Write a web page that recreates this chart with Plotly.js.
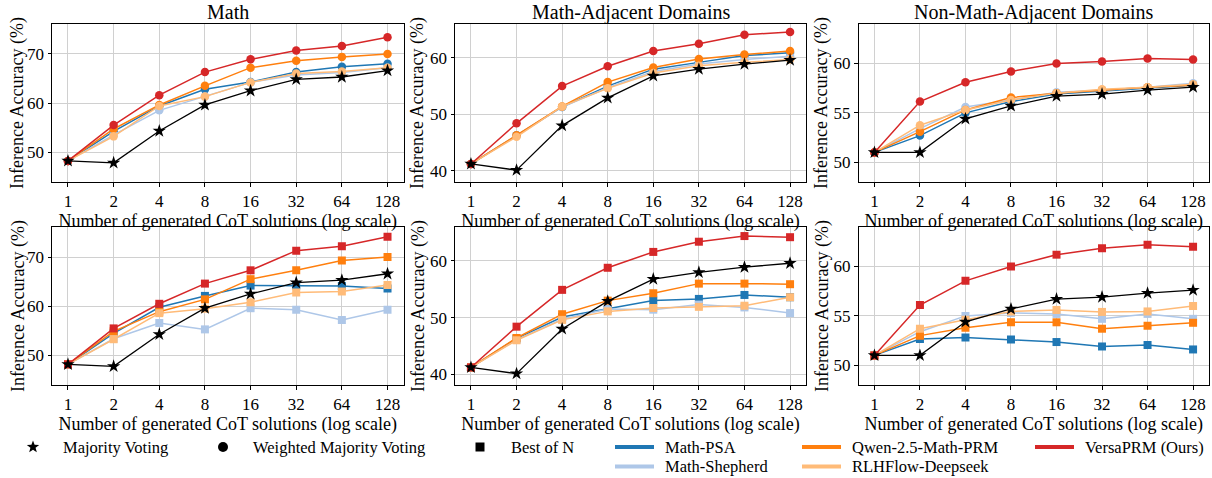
<!DOCTYPE html>
<html><head><meta charset="utf-8">
<script src="https://cdn.plot.ly/plotly-3.0.1.min.js"></script>
<style>html,body{margin:0;padding:0;background:#fff}#c{width:1212px;height:478px}</style>
</head><body><div id="c"></div>
<script>
const N = [1, 2, 4, 8, 16, 32, 64, 128];
const tickText = ["1", "2", "4", "8", "16", "32", "64", "128"];
const panelTitles = ["Math", "Math-Adjacent Domains", "Non-Math-Adjacent Domains"];
const methodNames = ["Math-PSA", "Math-Shepherd", "Qwen-2.5-Math-PRM", "RLHFlow-Deepseek", "VersaPRM (Ours)"];
const methodColors = ["#1f77b4", "#aec7e8", "#ff7f0e", "#ffbb78", "#d62728"];
const strategyNames = ["Majority Voting", "Weighted Majority Voting", "Best of N"];

// Majority voting (same in both rows)
const mv_math = [48.2, 47.8, 54.3, 59.6, 62.5, 64.8, 65.3, 66.6];
const mv_adj  = [41.2, 40.1, 48.0, 52.9, 56.8, 58.0, 58.9, 59.6];
const mv_non  = [51.0, 51.0, 54.4, 55.7, 56.7, 56.9, 57.3, 57.6];

// Weighted majority voting (top row)
const wmv_math_psa   = [48.2, 54.2, 59.4, 62.8, 64.3, 66.3, 67.4, 68.0];
const wmv_math_shep  = [48.2, 53.5, 58.5, 61.3, 64.2, 65.7, 66.2, 67.2];
const wmv_math_qwen  = [48.2, 54.7, 59.6, 63.5, 67.2, 68.6, 69.4, 70.0];
const wmv_math_rlhf  = [48.2, 53.2, 59.4, 61.3, 64.2, 66.0, 66.4, 67.2];
const wmv_math_versa = [48.2, 55.5, 61.6, 66.3, 68.9, 70.7, 71.6, 73.4];

const wmv_adj_psa   = [41.2, 46.3, 51.3, 55.0, 58.0, 59.2, 60.4, 60.9];
const wmv_adj_shep  = [41.2, 46.2, 51.3, 54.7, 57.6, 58.9, 59.7, 60.3];
const wmv_adj_qwen  = [41.2, 46.3, 51.4, 55.7, 58.3, 59.8, 60.6, 61.2];
const wmv_adj_rlhf  = [41.2, 46.0, 51.4, 54.6, 57.3, 58.6, 59.2, 59.7];
const wmv_adj_versa = [41.2, 48.4, 55.0, 58.5, 61.2, 62.5, 64.1, 64.6];

const wmv_non_psa   = [51.0, 52.7, 55.0, 56.15, 56.9, 57.2, 57.5, 57.8];
const wmv_non_shep  = [51.0, 53.4, 55.6, 56.3, 57.1, 57.3, 57.6, 58.0];
const wmv_non_qwen  = [51.0, 53.1, 55.3, 56.55, 57.0, 57.3, 57.6, 57.8];
const wmv_non_rlhf  = [51.0, 53.75, 55.3, 56.3, 57.0, 57.4, 57.6, 57.9];
const wmv_non_versa = [51.0, 56.15, 58.1, 59.2, 60.0, 60.2, 60.5, 60.4];

// Best of N (bottom row)
const bon_math_psa   = [48.2, 54.5, 59.8, 62.1, 64.2, 64.2, 64.1, 63.6];
const bon_math_shep  = [48.2, 53.4, 56.6, 55.3, 59.6, 59.3, 57.2, 59.3];
const bon_math_qwen  = [48.2, 54.9, 58.9, 61.4, 65.5, 67.3, 69.3, 70.0];
const bon_math_rlhf  = [48.2, 53.3, 58.6, 59.5, 60.8, 62.8, 63.0, 64.3];
const bon_math_versa = [48.2, 55.5, 60.5, 64.6, 67.3, 71.3, 72.2, 74.1];

const bon_adj_psa   = [41.2, 46.3, 50.1, 51.5, 53.0, 53.3, 54.0, 53.6];
const bon_adj_shep  = [41.2, 46.1, 49.7, 51.5, 51.4, 52.3, 51.8, 50.8];
const bon_adj_qwen  = [41.2, 46.4, 50.6, 53.0, 54.3, 56.0, 56.0, 55.9];
const bon_adj_rlhf  = [41.2, 46.0, 49.6, 51.1, 51.7, 51.9, 52.1, 53.6];
const bon_adj_versa = [41.2, 48.4, 54.9, 58.8, 61.6, 63.4, 64.4, 64.2];

const bon_non_psa   = [51.0, 52.65, 52.8, 52.6, 52.35, 51.9, 52.05, 51.6];
const bon_non_shep  = [51.0, 53.4, 55.0, 55.3, 55.2, 54.7, 55.2, 54.7];
const bon_non_qwen  = [51.0, 53.0, 53.8, 54.35, 54.35, 53.7, 54.0, 54.3];
const bon_non_rlhf  = [51.0, 53.7, 54.6, 55.45, 55.6, 55.4, 55.45, 56.0];
const bon_non_versa = [51.0, 56.1, 58.55, 60.0, 61.2, 61.85, 62.2, 62.0];

const yRanges = [[43.9, 76.1], [38.0, 66.0], [48.0, 64.0], [44.0, 76.1], [38.1, 66.0], [48.0, 64.0]];
const yTicks = [[50, 60, 70], [40, 50, 60], [50, 55, 60], [50, 60, 70], [40, 50, 60], [50, 55, 60]];

const panels = [
  {methods: [wmv_math_psa, wmv_math_shep, wmv_math_qwen, wmv_math_rlhf, wmv_math_versa], mv: mv_math, sym: "circle"},
  {methods: [wmv_adj_psa, wmv_adj_shep, wmv_adj_qwen, wmv_adj_rlhf, wmv_adj_versa], mv: mv_adj, sym: "circle"},
  {methods: [wmv_non_psa, wmv_non_shep, wmv_non_qwen, wmv_non_rlhf, wmv_non_versa], mv: mv_non, sym: "circle"},
  {methods: [bon_math_psa, bon_math_shep, bon_math_qwen, bon_math_rlhf, bon_math_versa], mv: mv_math, sym: "square"},
  {methods: [bon_adj_psa, bon_adj_shep, bon_adj_qwen, bon_adj_rlhf, bon_adj_versa], mv: mv_adj, sym: "square"},
  {methods: [bon_non_psa, bon_non_shep, bon_non_qwen, bon_non_rlhf, bon_non_versa], mv: mv_non, sym: "square"}
];

const W = 1212, H = 478;
const FONT = "'Liberation Serif', 'Times New Roman', serif";
const xPix = [[52, 403.5], [455, 806], [858.5, 1209]];
const yPix = [[24, 182], [227, 385]];
const yTitleX = [18, 418, 822];
const px = v => v / W, py = v => 1 - v / H;

const traces = [];
const layout = {
  width: W, height: H, margin: {l: 0, r: 0, t: 0, b: 0},
  paper_bgcolor: "#fff", plot_bgcolor: "#fff",
  font: {family: FONT, size: 17, color: "#000"},
  showlegend: false, annotations: [], shapes: []
};

panels.forEach((p, i) => {
  const col = i % 3, row = Math.floor(i / 3);
  const ax = i === 0 ? "" : String(i + 1);
  p.methods.forEach((vals, m) => {
    traces.push({
      x: N, y: vals, xaxis: "x" + ax, yaxis: "y" + ax, type: "scatter", mode: "lines+markers",
      name: methodNames[m],
      line: {color: methodColors[m], width: 1.5},
      marker: {symbol: p.sym, size: p.sym === "circle" ? 8.5 : 8, color: methodColors[m]},
      hoverinfo: "skip"
    });
  });
  traces.push({
    x: N, y: p.mv, xaxis: "x" + ax, yaxis: "y" + ax, type: "scatter", mode: "lines+markers",
    name: strategyNames[0],
    line: {color: "#000", width: 1.3},
    marker: {symbol: "star", size: 10, color: "#000"},
    hoverinfo: "skip"
  });
  const xd = [px(xPix[col][0]), px(xPix[col][1])];
  const yd = [py(yPix[row][1]), py(yPix[row][0])];
  layout["xaxis" + ax] = {
    type: "log", domain: xd, anchor: "y" + ax,
    range: [-0.05 * Math.log10(128), 1.05 * Math.log10(128)],
    tickvals: N, ticktext: tickText,
    showline: true, mirror: true, linecolor: "#000", linewidth: 1,
    ticks: "outside", ticklen: 3.5, tickcolor: "#000",
    showgrid: true, gridcolor: "#d0d0d0", gridwidth: 1, zeroline: false,
    tickfont: {family: FONT, size: 17},
    title: {text: "Number of generated CoT solutions (log scale)", font: {family: FONT, size: 18}, standoff: 1}
  };
  layout["yaxis" + ax] = {
    domain: yd, anchor: "x" + ax, range: yRanges[i], tickvals: yTicks[i],
    showline: true, mirror: true, linecolor: "#000", linewidth: 1,
    ticks: "outside", ticklen: 3.5, tickcolor: "#000",
    showgrid: true, gridcolor: "#d0d0d0", gridwidth: 1, zeroline: false,
    tickfont: {family: FONT, size: 17}
  };
  layout.annotations.push({
    text: "Inference Accuracy (%)", xref: "paper", yref: "paper",
    x: px(yTitleX[col]), y: (yd[0] + yd[1]) / 2, xanchor: "center", yanchor: "middle",
    textangle: -90, showarrow: false, font: {family: FONT, size: 18}
  });
  if (row === 0) {
    layout.annotations.push({
      text: panelTitles[col], xref: "paper", yref: "paper",
      x: (xd[0] + xd[1]) / 2, y: py(12.5), yanchor: "middle", xanchor: "center",
      showarrow: false, font: {family: FONT, size: 20}
    });
  }
});

// ---- Legend (drawn as shapes + text, matching the matplotlib layout) ----
function legendText(t, x, y) {
  layout.annotations.push({text: t, xref: "paper", yref: "paper", x: px(x), y: py(y),
    xanchor: "left", yanchor: "middle", showarrow: false, borderpad: 0,
    font: {family: FONT, size: 16.5, color: "#000"}});
}
function starPath(cx, cy, ro, ri) {
  let d = "";
  for (let k = 0; k < 10; k++) {
    const r = k % 2 === 0 ? ro : ri;
    const a = -Math.PI / 2 + k * Math.PI / 5;
    d += (k === 0 ? "M" : "L") + px(cx + r * Math.cos(a)).toFixed(5) + "," + py(cy + r * Math.sin(a)).toFixed(5);
  }
  return d + "Z";
}
const r1 = 447, r2 = 466.5;
layout.shapes.push({type: "path", xref: "paper", yref: "paper", path: starPath(33, r1, 6.5, 2.7), fillcolor: "#000", line: {width: 0}});
legendText(strategyNames[0], 62, r1);
layout.shapes.push({type: "circle", xref: "paper", yref: "paper", x0: px(218), x1: px(228), y0: py(r1 + 5), y1: py(r1 - 5), fillcolor: "#000", line: {width: 0}});
legendText(strategyNames[1], 252, r1);
layout.shapes.push({type: "rect", xref: "paper", yref: "paper", x0: px(475.5), x1: px(484.5), y0: py(r1 + 4.5), y1: py(r1 - 4.5), fillcolor: "#000", line: {width: 0}});
legendText(strategyNames[2], 510, r1);
const lineItems = [[0, 615, r1], [2, 802, r1], [4, 1035, r1], [1, 615, r2], [3, 802, r2]];
lineItems.forEach(([m, x0, y]) => {
  layout.shapes.push({type: "line", xref: "paper", yref: "paper", x0: px(x0), x1: px(x0 + 39), y0: py(y), y1: py(y),
    line: {color: methodColors[m], width: 4}});
  legendText(methodNames[m], x0 + 49, y);
});

Plotly.newPlot("c", traces, layout, {staticPlot: true});
</script>
</body></html>
